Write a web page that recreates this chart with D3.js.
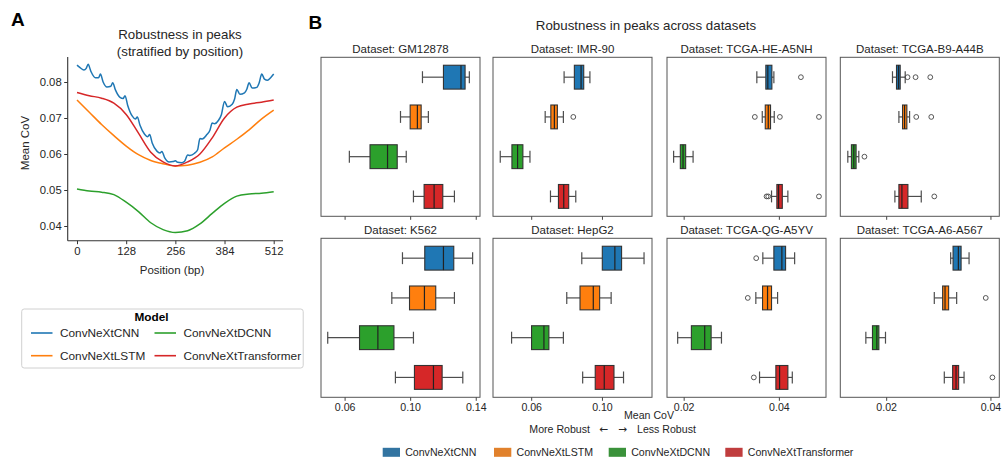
<!DOCTYPE html>
<html><head><meta charset="utf-8">
<script src="https://cdn.jsdelivr.net/npm/d3@7"></script>
<style>
html,body{margin:0;padding:0;background:#fff;}
text{font-family:"Liberation Sans",Arial,Helvetica,sans-serif;fill:#262626;}
</style></head>
<body>
<svg id="c" width="1002" height="459"></svg>
<script>
// ---------------- DATA ----------------
const models = ["ConvNeXtCNN","ConvNeXtLSTM","ConvNeXtDCNN","ConvNeXtTransformer"];
const lineColors = ["#1f77b4","#ff7f0e","#2ca02c","#d62728"];
const legendColors = ["#3274a1","#e1812c","#3a923a","#c03d3e"];

// Panel A: mean CoV by position
const positions = [0,32,64,96,128,160,192,224,256,288,320,352,384,416,448,480,512];
const lstmMean = [0.0750,0.0716,0.0682,0.0651,0.0622,0.0598,0.0582,0.0573,0.0567,0.0569,0.0577,0.0592,0.0617,0.0641,0.0667,0.0697,0.0722];
const dcnnMean = [0.0503,0.0497,0.0494,0.0487,0.0466,0.0440,0.0409,0.0390,0.0382,0.0387,0.0406,0.0435,0.0463,0.0483,0.0489,0.0491,0.0495];
const transformerMean = [0.0771,0.0762,0.0755,0.0741,0.0710,0.0658,0.0605,0.0578,0.0567,0.0578,0.0600,0.0645,0.0700,0.0730,0.0739,0.0744,0.0750];
const cnnPositions = [0,8,18,24,29,36,48,56,61,68,78,88,93,100,112,120,125,132,144,152,157,164,176,184,189,196,208,216,221,228,240,250,256,262,272,280,288,294,306,314,320,326,338,346,352,358,368,376,384,392,404,410,416,424,436,442,448,456,468,474,481,488,496,504,512];
const cnnMean = [0.0847,0.0840,0.0833,0.0838,0.0849,0.0830,0.0812,0.0812,0.0822,0.0800,0.0786,0.0788,0.0798,0.0778,0.0757,0.0754,0.0762,0.0735,0.0705,0.0697,0.0703,0.0680,0.0655,0.0648,0.0654,0.0630,0.0608,0.0603,0.0607,0.0590,0.0578,0.0579,0.0581,0.0577,0.0576,0.0580,0.0597,0.0596,0.0602,0.0612,0.0643,0.0642,0.0654,0.0666,0.0686,0.0684,0.0693,0.0710,0.0746,0.0731,0.0738,0.0752,0.0779,0.0766,0.0770,0.0780,0.0798,0.0783,0.0785,0.0797,0.0822,0.0808,0.0805,0.0812,0.0822];
const posTicks = [0,128,256,384,512];
const covTicks = [0.04,0.05,0.06,0.07,0.08];

// Panel B: box stats per dataset, per model: [whiskerLow, q1, median, q3, whiskerHigh]
const datasets = ["GM12878","IMR-90","TCGA-HE-A5NH","TCGA-B9-A44B","K562","HepG2","TCGA-QG-A5YV","TCGA-A6-A567"];
const statsGM12878 = [[0.1075,0.1203,0.1310,0.1335,0.1361],[0.0941,0.1000,0.1044,0.1067,0.1111],[0.0629,0.0755,0.0862,0.0921,0.0976],[0.1020,0.1085,0.1146,0.1199,0.1270]];
const statsIMR90 = [[0.0786,0.0844,0.0882,0.0897,0.0932],[0.0679,0.0711,0.0731,0.0748,0.0782],[0.0425,0.0491,0.0523,0.0553,0.0593],[0.0709,0.0754,0.0784,0.0812,0.0852]];
const statsHEA5NH = [[0.03537,0.03726,0.03768,0.03853,0.03895],[0.03651,0.03714,0.03777,0.03825,0.03903],[0.01789,0.01930,0.01987,0.02042,0.02198],[0.03846,0.03958,0.03994,0.04072,0.04189]];
const statsB9A44B = [[0.02121,0.02198,0.02237,0.02269,0.02365],[0.02244,0.02314,0.02353,0.02397,0.02449],[0.01264,0.01333,0.01379,0.01423,0.01475],[0.02167,0.02244,0.02302,0.02417,0.02673]];
const statsK562 = [[0.0953,0.1089,0.1203,0.1266,0.1381],[0.0888,0.0996,0.1087,0.1156,0.1270],[0.0497,0.0691,0.0803,0.0901,0.1020],[0.0910,0.1026,0.1142,0.1195,0.1321]];
const statsHepG2 = [[0.0886,0.1002,0.1073,0.1111,0.1238],[0.0801,0.0876,0.0951,0.0987,0.1052],[0.0489,0.0602,0.0672,0.0700,0.0782],[0.0891,0.0962,0.1013,0.1068,0.1122]];
const statsQGA5YV = [[0.03663,0.03895,0.04063,0.04141,0.04331],[0.03516,0.03657,0.03762,0.03846,0.03973],[0.01874,0.02162,0.02442,0.02577,0.02794],[0.03594,0.03937,0.04015,0.04189,0.04282]];
const statsA6A567 = [[0.03237,0.03283,0.03385,0.03437,0.03590],[0.02923,0.03083,0.03129,0.03198,0.03352],[0.01610,0.01737,0.01821,0.01860,0.01987],[0.03115,0.03275,0.03340,0.03390,0.03494]];
// outliers per dataset, per model
const outGM12878 = [[],[],[],[]];
const outIMR90 = [[],[0.0838],[],[]];
const outHEA5NH = [[0.04463],[0.03495,0.04021,0.04842],[],[0.03741,0.03777,0.04842]];
const outB9A44B = [[0.0241,0.02564,0.02846],[0.02577,0.02865],[0.01583],[0.02923]];
const outK562 = [[],[],[],[]];
const outHepG2 = [[],[],[],[]];
const outQGA5YV = [[0.03524],[0.03347],[],[0.03474]];
const outA6A567 = [[],[0.0391],[],[0.04038]];
const allStats = [statsGM12878,statsIMR90,statsHEA5NH,statsB9A44B,statsK562,statsHepG2,statsQGA5YV,statsA6A567];
const allOut = [outGM12878,outIMR90,outHEA5NH,outB9A44B,outK562,outHepG2,outQGA5YV,outA6A567];
// shared x domain per column, and tick values
const colDomains = [[0.0456,0.1426],[0.0384,0.1283],[0.0165,0.0499],[0.0112,0.0417]];
const colTicks = [[0.06,0.10,0.14],[0.06,0.10],[0.02,0.04],[0.02,0.04]];

// ---------------- DRAW ----------------
const svg = d3.select("#c");
svg.append("rect").attr("width",1002).attr("height",459).attr("fill","#fff");

// Panel labels
svg.append("text").attr("x",11).attr("y",25.5).attr("font-size",19).attr("font-weight","bold").style("fill","#000").text("A");
svg.append("text").attr("x",308.5).attr("y",28.5).attr("font-size",19).attr("font-weight","bold").style("fill","#000").text("B");

// ----- Panel A -----
const A = {left:67.7, right:283, top:57, bottom:240.7};
const xA = d3.scaleLinear().domain([0,512]).range([77,273.7]);
const yA = d3.scaleLinear().domain([0.04,0.08]).range([226,82]);
const gA = svg.append("g");
gA.append("text").attr("x",180).attr("y",39).attr("text-anchor","middle").attr("font-size",13.3).text("Robustness in peaks");
gA.append("text").attr("x",180).attr("y",56).attr("text-anchor","middle").attr("font-size",13.3).text("(stratified by position)");

const lineA = d3.line().x(d=>xA(d[0])).y(d=>yA(d[1])).curve(d3.curveMonotoneX);
const seriesA = [
  {pos:cnnPositions, val:cnnMean, c:lineColors[0]},
  {pos:positions, val:lstmMean, c:lineColors[1]},
  {pos:positions, val:dcnnMean, c:lineColors[2]},
  {pos:positions, val:transformerMean, c:lineColors[3]}
];
[2,1,3,0].forEach(i=>{
  const s = seriesA[i];
  gA.append("path").datum(s.pos.map((p,k)=>[p,s.val[k]]))
    .attr("d",lineA).attr("fill","none").attr("stroke",s.c).attr("stroke-width",1.5);
});
// spines
gA.append("line").attr("x1",A.left).attr("x2",A.left).attr("y1",A.top).attr("y2",A.bottom).attr("stroke","#333").attr("stroke-width",1.1);
gA.append("line").attr("x1",A.left).attr("x2",A.right).attr("y1",A.bottom).attr("y2",A.bottom).attr("stroke","#333").attr("stroke-width",1.1);
const yAxA = d3.axisLeft(yA).tickValues(covTicks).tickFormat(d3.format(".2f")).tickSize(3.5).tickPadding(2.5);
const gyA = gA.append("g").attr("transform",`translate(${A.left},0)`).call(yAxA);
gyA.select(".domain").remove();
gyA.selectAll("line").attr("stroke","#333");
gyA.selectAll("text").attr("font-size",11.3).style("font-family","Liberation Sans, Arial, sans-serif").style("fill","#262626");
const xAxA = d3.axisBottom(xA).tickValues(posTicks).tickSize(3.5).tickPadding(3);
const gxA = gA.append("g").attr("transform",`translate(0,${A.bottom})`).call(xAxA);
gxA.select(".domain").remove();
gxA.selectAll("line").attr("stroke","#333");
gxA.selectAll("text").attr("font-size",11.3).style("font-family","Liberation Sans, Arial, sans-serif").style("fill","#262626");
gA.append("text").attr("transform","translate(29,143) rotate(-90)").attr("text-anchor","middle").attr("font-size",11.5).text("Mean CoV");
gA.append("text").attr("x",172).attr("y",273.5).attr("text-anchor","middle").attr("font-size",11.5).text("Position (bp)");

// Legend A
const lg = svg.append("g");
lg.append("rect").attr("x",21.7).attr("y",309).attr("width",281.5).attr("height",59).attr("rx",2.5)
  .attr("fill","#fff").attr("stroke","#d0d0d0").attr("stroke-width",1);
lg.append("text").attr("x",151.5).attr("y",321).attr("text-anchor","middle").attr("font-size",11.8).attr("font-weight","bold").style("fill","#000").text("Model");
const legPos = [[31,333],[31,355.7],[154.5,333],[154.5,355.7]];
[0,1,2,3].forEach((m,i)=>{
  const [lx,ly] = legPos[i];
  lg.append("line").attr("x1",lx).attr("x2",lx+21.5).attr("y1",ly).attr("y2",ly).attr("stroke",lineColors[m]).attr("stroke-width",1.6);
  lg.append("text").attr("x",lx+29).attr("y",ly+4).attr("font-size",11.8).text(models[m]);
});

// ----- Panel B -----
svg.append("text").attr("x",646).attr("y",29.5).attr("text-anchor","middle").attr("font-size",13.3).text("Robustness in peaks across datasets");
const colX = [321,493,667,840.3];
const rowY = [57.3,238.3];
const pw = 159, ph = 159;
datasets.forEach((ds,di)=>{
  const col = di%4, row = Math.floor(di/4);
  const x0 = colX[col], y0 = rowY[row];
  const g = svg.append("g");
  const x = d3.scaleLinear().domain(colDomains[col]).range([x0,x0+pw]);
  const y = d3.scaleLinear().domain([-0.5,3.5]).range([y0,y0+ph]);
  const hb = 0.3, hc = 0.15;
  const st = allStats[di], outs = allOut[di];
  st.forEach((s,m)=>{
    const yc = y(m);
    const [lo,q1,md,q3,hi] = s;
    const wc = "#4d4d4d";
    g.append("line").attr("x1",x(lo)).attr("x2",x(q1)).attr("y1",yc).attr("y2",yc).attr("stroke",wc).attr("stroke-width",1.2);
    g.append("line").attr("x1",x(q3)).attr("x2",x(hi)).attr("y1",yc).attr("y2",yc).attr("stroke",wc).attr("stroke-width",1.2);
    g.append("line").attr("x1",x(lo)).attr("x2",x(lo)).attr("y1",y(m-hc)).attr("y2",y(m+hc)).attr("stroke",wc).attr("stroke-width",1.2);
    g.append("line").attr("x1",x(hi)).attr("x2",x(hi)).attr("y1",y(m-hc)).attr("y2",y(m+hc)).attr("stroke",wc).attr("stroke-width",1.2);
    g.append("rect").attr("x",x(q1)).attr("y",y(m-hb)).attr("width",x(q3)-x(q1)).attr("height",y(m+hb)-y(m-hb))
      .attr("fill",lineColors[m]).attr("stroke","#333").attr("stroke-width",1.1);
    g.append("line").attr("x1",x(md)).attr("x2",x(md)).attr("y1",y(m-hb)).attr("y2",y(m+hb)).attr("stroke","#222").attr("stroke-width",1.2);
    outs[m].forEach(o=>{
      g.append("circle").attr("cx",x(o)).attr("cy",yc).attr("r",2.4).attr("fill","none").attr("stroke","#444").attr("stroke-width",0.9);
    });
  });
  g.append("rect").attr("x",x0).attr("y",y0).attr("width",pw).attr("height",ph).attr("fill","none").attr("stroke","#555").attr("stroke-width",1);
  const ax = d3.axisBottom(x).tickValues(colTicks[col]).tickFormat(row===1?d3.format(".2f"):()=> "").tickSize(3.5).tickPadding(2.5);
  const ga = g.append("g").attr("transform",`translate(0,${y0+ph})`).call(ax);
  ga.select(".domain").remove();
  ga.selectAll("line").attr("stroke","#444");
  ga.selectAll("text").attr("font-size",10.6).style("font-family","Liberation Sans, Arial, sans-serif").style("fill","#262626");
  g.append("text").attr("x",x0+pw/2).attr("y",y0-4.3).attr("text-anchor","middle").attr("font-size",11.5).text("Dataset: "+ds);
});
// axis labels B
svg.append("text").attr("x",649).attr("y",418.5).attr("text-anchor","middle").attr("font-size",10.6).text("Mean CoV");
svg.append("text").attr("x",590).attr("y",432.5).attr("text-anchor","end").attr("font-size",10.6).text("More Robust");
svg.append("text").attr("x",604).attr("y",432.5).attr("text-anchor","middle").attr("font-size",10.6).style("font-family","DejaVu Sans, sans-serif").text("\u2190");
svg.append("text").attr("x",623).attr("y",432.5).attr("text-anchor","middle").attr("font-size",10.6).style("font-family","DejaVu Sans, sans-serif").text("\u2192");
svg.append("text").attr("x",637).attr("y",432.5).attr("text-anchor","start").attr("font-size",10.6).text("Less Robust");

// legend B
const lgB = [382.7,494,608.7,725.3];
models.forEach((mname,m)=>{
  svg.append("rect").attr("x",lgB[m]).attr("y",447.8).attr("width",17.3).attr("height",9).attr("fill",legendColors[m]);
  svg.append("text").attr("x",lgB[m]+22.5).attr("y",456).attr("font-size",10.6).text(mname);
});
</script>
</body></html>
